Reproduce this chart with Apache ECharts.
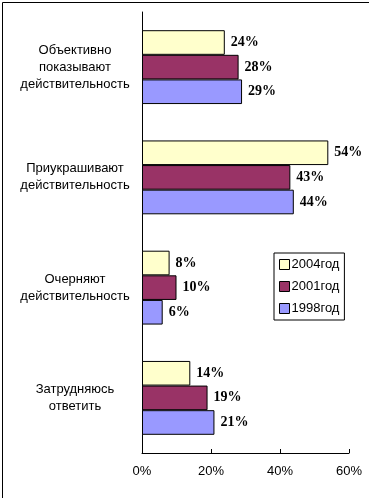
<!DOCTYPE html>
<html><head><meta charset="utf-8">
<script src="https://cdn.jsdelivr.net/npm/echarts@6/dist/echarts.min.js"></script>
<style>html,body{margin:0;padding:0;background:#fff}#c{width:369px;height:498px}</style>
</head><body><div id="c"></div>
<script>
const categories = ['Объективно\nпоказывают\nдействительность', 'Приукрашивают\nдействительность', 'Очерняют\nдействительность', 'Затрудняюсь\nответить'];
const seriesNames = ['2004год', '2001год', '1998год'];
const values2004 = [24, 54, 8, 14];
const values2001 = [28, 43, 10, 19];
const values1998 = [29, 44, 6, 21];
const xTicks = [0, 20, 40, 60];
const colors = ['#FFFFCC', '#993366', '#9999FF'];

const chart = echarts.init(document.getElementById('c'), null, {renderer: 'canvas'});
const allValues = [values2004, values2001, values1998];
chart.setOption({
  animation: false,
  backgroundColor: '#fff',
  graphic: [{type: 'rect', left: 0, top: 0, shape: {x: 0.5, y: 0.5, width: 367, height: 496}, style: {fill: 'none', stroke: '#000', lineWidth: 1}, silent: true}],
  legend: {
    orient: 'vertical', left: 274, top: 253, itemWidth: 10, itemHeight: 10, itemGap: 9,
    padding: [5, 5, 5, 5],
    borderColor: '#000', borderWidth: 1, backgroundColor: '#fff',
    textStyle: {fontFamily: 'Liberation Sans, Arial', fontSize: 13, color: '#000', padding: [0,0,0,-3]},
    data: seriesNames.map(n => ({name: n, icon: 'rect', itemStyle: {borderColor: '#000', borderWidth: 1}}))
  },
  grid: {left: 142, right: 20, top: 12, bottom: 45},
  xAxis: {
    type: 'value', min: xTicks[0], max: xTicks[xTicks.length - 1], interval: 20,
    axisLine: {show: true, lineStyle: {color: '#000', width: 1}},
    axisTick: {show: true, inside: true, length: 4, lineStyle: {color: '#000'}},
    splitLine: {show: false},
    axisLabel: {formatter: v => v + '%', fontFamily: 'Liberation Sans, Arial', fontSize: 13, color: '#000', margin: 12}
  },
  yAxis: {
    type: 'category', data: categories, inverse: true,
    axisLine: {show: true, lineStyle: {color: '#000', width: 1}},
    axisTick: {show: false},
    axisLabel: {fontFamily: 'Liberation Sans, Arial', fontSize: 13, color: '#000', align: 'center', margin: 67, lineHeight: 17}
  },
  series: seriesNames.map((n, i) => ({
    name: n, type: 'bar', data: allValues[i],
    barGap: '0%', barCategoryGap: '33%',
    itemStyle: {color: colors[i], borderColor: '#000', borderWidth: 1},
    label: {show: true, position: 'right', distance: 6, formatter: '{c}%', fontFamily: 'Liberation Serif, Times New Roman', fontWeight: 'bold', fontSize: 14, color: '#000'}
  }))
});
</script></body></html>
